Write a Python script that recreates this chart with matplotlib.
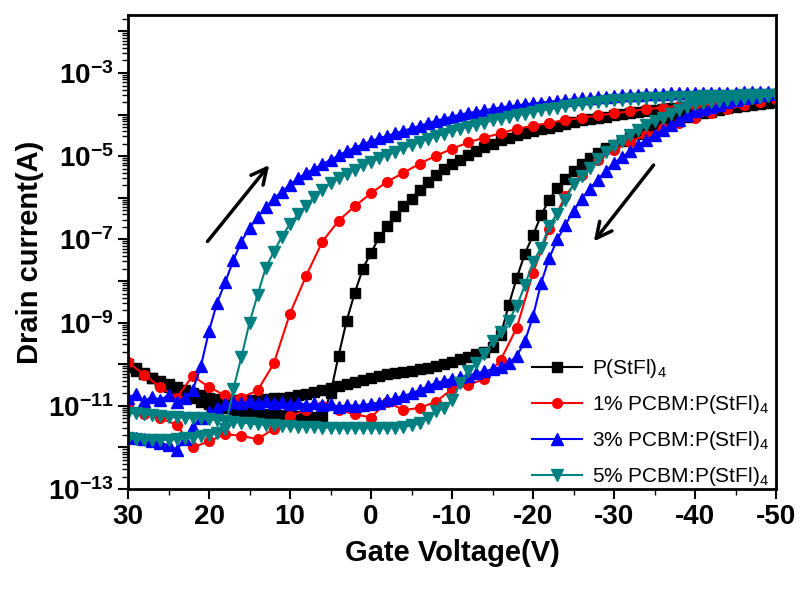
import numpy as np
import matplotlib
matplotlib.use("Agg")
import matplotlib.pyplot as plt
from matplotlib.ticker import FixedLocator, FuncFormatter, LogLocator, MultipleLocator

plt.rcParams["font.family"] = ["Liberation Sans", "DejaVu Sans"]
plt.rcParams["mathtext.default"] = "regular"
plt.rcParams["axes.unicode_minus"] = False

# gate voltage sweeps: forward 30 -> -50 V, then back -50 -> 30 V
v_fwd = np.arange(30, -51, -1)
v_bwd = np.arange(-50, 31, 1)
v_fwd_red = np.arange(30, -51, -2)
v_bwd_red = np.arange(-50, 31, 2)

# log10 of drain current (A)
black_fwd = [-10.00, -10.10, -10.22, -10.33, -10.45, -10.55, -10.65, -10.74, -10.82, -10.90,
             -10.96, -11.02, -11.06, -11.10, -11.13, -11.15, -11.18, -11.20, -11.22, -11.23,
             -11.24, -11.25, -11.26, -11.27, -11.27, -10.70, -9.79, -8.95, -8.28, -7.70,
             -7.32, -6.95, -6.67, -6.43, -6.20, -6.02, -5.80, -5.62, -5.44, -5.30,
             -5.18, -5.08, -4.98, -4.88, -4.78, -4.70, -4.62, -4.55, -4.49, -4.44,
             -4.39, -4.35, -4.31, -4.27, -4.23, -4.18, -4.14, -4.11, -4.08, -4.05,
             -4.02, -3.99, -3.96, -3.94, -3.91, -3.89, -3.87, -3.85, -3.83, -3.81,
             -3.80, -3.78, -3.77, -3.76, -3.75, -3.74, -3.73, -3.72, -3.71, -3.70,
             -3.70]
black_bwd = [-3.70, -3.72, -3.74, -3.76, -3.79, -3.82, -3.85, -3.89, -3.93, -3.97,
             -4.01, -4.06, -4.11, -4.17, -4.24, -4.31, -4.38, -4.46, -4.54, -4.63,
             -4.72, -4.81, -4.92, -5.04, -5.18, -5.35, -5.55, -5.76, -6.04, -6.42,
             -6.90, -7.34, -7.92, -8.58, -9.30, -9.58, -9.70, -9.76, -9.82, -9.88,
             -9.95, -10.00, -10.04, -10.08, -10.12, -10.15, -10.18, -10.21, -10.24, -10.28,
             -10.32, -10.37, -10.42, -10.47, -10.52, -10.57, -10.62, -10.67, -10.71, -10.75,
             -10.78, -10.80, -10.82, -10.84, -10.85, -10.86, -10.87, -10.87, -10.86, -10.84,
             -10.80, -10.75, -10.69, -10.62, -10.55, -10.47, -10.40, -10.32, -10.24, -10.15,
             -10.07]

red_fwd = [-9.95, -10.25, -10.55, -10.80, -10.28, -10.55, -10.75, -10.80, -10.63, -9.98,
           -8.78, -7.87, -7.05, -6.55, -6.20, -5.89, -5.61, -5.40, -5.18, -4.99,
           -4.82, -4.67, -4.55, -4.45, -4.34, -4.27, -4.20, -4.13, -4.08, -4.02,
           -3.97, -3.92, -3.87, -3.83, -3.79, -3.76, -3.73, -3.70, -3.67, -3.65,
           -3.63]
red_bwd = [-3.63, -3.70, -3.78, -3.87, -3.97, -4.08, -4.20, -4.33, -4.48, -4.65,
           -4.85, -5.10, -5.45, -5.95, -6.75, -7.80, -9.12, -9.90, -10.35, -10.50,
           -10.60, -10.90, -11.05, -11.10, -10.90, -11.28, -11.20, -11.10, -11.00, -11.10,
           -11.25, -11.55, -11.80, -11.72, -11.68, -11.85, -12.00, -11.45, -11.30, -11.20,
           -11.00]

blue_fwd = [-10.80, -10.72, -10.88, -10.78, -10.86, -10.74, -10.90, -10.80, -10.62, -10.05,
            -9.20, -8.52, -8.03, -7.50, -7.05, -6.72, -6.47, -6.22, -6.02, -5.85,
            -5.68, -5.53, -5.41, -5.30, -5.19, -5.09, -4.98, -4.88, -4.80, -4.71,
            -4.64, -4.57, -4.51, -4.45, -4.39, -4.33, -4.27, -4.21, -4.15, -4.10,
            -4.05, -4.00, -3.96, -3.93, -3.90, -3.86, -3.83, -3.80, -3.78, -3.75,
            -3.73, -3.71, -3.69, -3.67, -3.65, -3.63, -3.61, -3.60, -3.58, -3.57,
            -3.55, -3.54, -3.53, -3.52, -3.51, -3.50, -3.50, -3.49, -3.49, -3.48,
            -3.48, -3.48, -3.47, -3.47, -3.47, -3.47, -3.46, -3.46, -3.46, -3.46,
            -3.46]
blue_bwd = [-3.46, -3.50, -3.53, -3.57, -3.61, -3.65, -3.70, -3.76, -3.82, -3.87,
            -3.92, -4.02, -4.13, -4.25, -4.37, -4.49, -4.61, -4.74, -4.88, -5.02,
            -5.17, -5.35, -5.56, -5.78, -6.03, -6.31, -6.65, -7.00, -7.45, -8.05,
            -8.85, -9.45, -9.80, -9.97, -10.06, -10.12, -10.17, -10.22, -10.27, -10.31,
            -10.35, -10.40, -10.45, -10.53, -10.62, -10.70, -10.76, -10.82, -10.86, -10.92,
            -10.95, -10.98, -11.00, -10.98, -11.02, -10.96, -10.99, -10.94, -10.98, -10.92,
            -10.96, -10.90, -10.94, -10.88, -10.93, -10.88, -10.94, -10.90, -10.96, -11.05,
            -11.15, -11.30, -11.50, -11.80, -12.05, -11.95, -11.88, -11.85, -11.80, -11.78,
            -11.75]

teal_fwd = [-11.78, -11.80, -11.81, -11.82, -11.82, -11.81, -11.80, -11.78, -11.76, -11.73,
            -11.70, -11.66, -11.55, -10.60, -9.83, -9.00, -8.33, -7.68, -7.30, -6.93,
            -6.63, -6.40, -6.19, -5.98, -5.80, -5.64, -5.53, -5.43, -5.33, -5.22,
            -5.13, -5.05, -4.97, -4.89, -4.81, -4.73, -4.66, -4.59, -4.52, -4.46,
            -4.40, -4.34, -4.29, -4.24, -4.19, -4.14, -4.10, -4.06, -4.02, -3.98,
            -3.94, -3.90, -3.86, -3.83, -3.80, -3.77, -3.74, -3.72, -3.70, -3.68,
            -3.66, -3.65, -3.63, -3.62, -3.61, -3.60, -3.59, -3.58, -3.58, -3.57,
            -3.57, -3.56, -3.56, -3.55, -3.55, -3.55, -3.54, -3.54, -3.54, -3.53,
            -3.53]
teal_bwd = [-3.53, -3.55, -3.57, -3.59, -3.61, -3.63, -3.65, -3.67, -3.69, -3.72,
            -3.75, -3.82, -3.90, -3.98, -4.07, -4.16, -4.26, -4.37, -4.50, -4.63,
            -4.76, -4.89, -5.06, -5.28, -5.47, -5.67, -6.05, -6.38, -6.67, -7.20,
            -7.55, -8.10, -8.60, -8.95, -9.22, -9.45, -9.75, -9.98, -10.16, -10.45,
            -10.87, -11.05, -11.12, -11.28, -11.42, -11.47, -11.50, -11.52, -11.53, -11.53,
            -11.53, -11.53, -11.54, -11.53, -11.53, -11.52, -11.52, -11.51, -11.50, -11.50,
            -11.49, -11.48, -11.47, -11.46, -11.44, -11.42, -11.40, -11.38, -11.36, -11.34,
            -11.32, -11.30, -11.29, -11.28, -11.27, -11.26, -11.24, -11.22, -11.20, -11.18,
            -11.17]

labels = ["P(StFl)$_4$", "1% PCBM:P(StFl)$_4$", "3% PCBM:P(StFl)$_4$", "5% PCBM:P(StFl)$_4$"]

fig = plt.figure(figsize=(8, 5.9), dpi=100)
ax = fig.add_axes([0.16, 0.171, 0.81, 0.804])

series = [
    (v_fwd, v_bwd, black_fwd, black_bwd, "black", "s", 6.5),
    (v_fwd_red, v_bwd_red, red_fwd, red_bwd, "#ff0000", "o", 7),
    (v_fwd, v_bwd, blue_fwd, blue_bwd, "#0000ff", "^", 8),
    (v_fwd, v_bwd, teal_fwd, teal_bwd, "#008080", "v", 8),
]
for (vf, vb, lf, lb, c, m, ms), lab in zip(series, labels):
    v = np.concatenate([vf, vb])
    i = 10 ** np.concatenate([lf, lb])
    ax.plot(v, i, color=c, marker=m, ms=ms, lw=1.5, mec=c, label=lab)

ax.set_yscale("log")
ax.set_xlim(30, -50)
ax.set_ylim(1e-13, 10 ** -1.6)

ax.xaxis.set_major_locator(MultipleLocator(10))
ax.xaxis.set_minor_locator(MultipleLocator(5))
ax.yaxis.set_major_locator(FixedLocator([10.0 ** e for e in range(-13, -1)]))
ax.yaxis.set_minor_locator(LogLocator(base=10, subs=np.arange(2, 10), numticks=100))


def ylab(y, pos):
    e = int(round(np.log10(y)))
    return r"$\mathdefault{10^{%d}}$" % e if e % 2 else ""


ax.yaxis.set_major_formatter(FuncFormatter(ylab))
ax.yaxis.set_minor_formatter(FuncFormatter(lambda y, p: ""))

ax.tick_params(which="major", direction="out", length=7, width=1.5, labelsize=20)
ax.tick_params(which="minor", direction="out", length=4, width=1)
for t in ax.get_xticklabels() + ax.get_yticklabels():
    t.set_fontweight("bold")
for s in ax.spines.values():
    s.set_linewidth(2)

ax.set_xlabel("Gate Voltage(V)", fontsize=21, fontweight="bold")
ax.set_ylabel("Drain current(A)", fontsize=21, fontweight="bold")
ax.xaxis.set_label_coords(0.5, -0.105)
ax.yaxis.set_label_coords(-0.13, 0.5)

# sweep direction arrows
ax.annotate("", xy=(12.35, 10 ** -5.16), xytext=(20.4, 10 ** -7.1),
            arrowprops=dict(arrowstyle="->", lw=2.5, color="black", mutation_scale=28))
ax.annotate("", xy=(-27.3, 10 ** -7.1), xytext=(-35.1, 10 ** -5.16),
            arrowprops=dict(arrowstyle="->", lw=2.5, color="black", mutation_scale=28))

ax.legend(loc="lower left", bbox_to_anchor=(0.61, -0.015), frameon=False,
          fontsize=15, handlelength=2.4, handletextpad=0.5, labelspacing=0.62,
          borderaxespad=0)

plt.savefig("out.png", dpi=100)
